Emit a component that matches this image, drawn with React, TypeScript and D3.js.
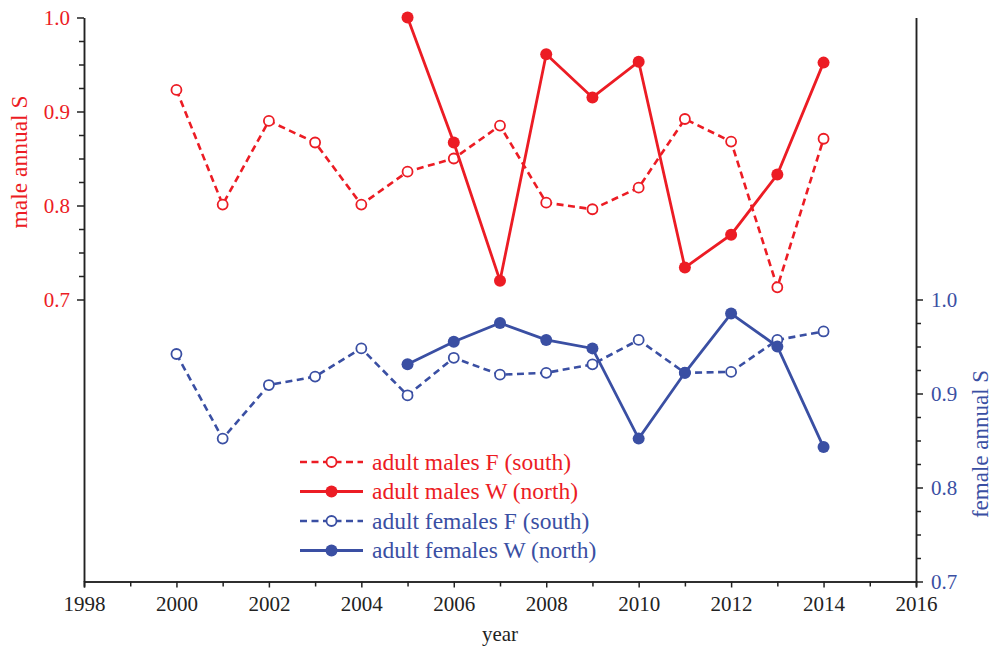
import * as d3 from "d3";
import React, { useEffect, useRef } from "react";

// years and survival values
const yearsAll = [2000, 2001, 2002, 2003, 2004, 2005, 2006, 2007, 2008, 2009, 2010, 2011, 2012, 2013, 2014];
const yearsNorth = [2005, 2006, 2007, 2008, 2009, 2010, 2011, 2012, 2013, 2014];

const malesSouth = [0.923, 0.801, 0.890, 0.867, 0.801, 0.836, 0.850, 0.885, 0.803, 0.796, 0.819, 0.892, 0.868, 0.713, 0.871];
const malesNorth = [1.0, 0.867, 0.720, 0.961, 0.915, 0.953, 0.734, 0.769, 0.833, 0.952];
const femalesSouth = [0.942, 0.852, 0.909, 0.918, 0.948, 0.898, 0.938, 0.920, 0.922, 0.931, 0.957, 0.922, 0.923, 0.957, 0.966];
const femalesNorth = [0.931, 0.955, 0.975, 0.957, 0.948, 0.852, 0.922, 0.985, 0.950, 0.843];

const xMajor = [1998, 2000, 2002, 2004, 2006, 2008, 2010, 2012, 2014, 2016];
const yMajorLeft = [0.7, 0.8, 0.9, 1.0];
const yMajorRight = [0.7, 0.8, 0.9, 1.0];

const RED = "#ec1c24";
const BLUE = "#3a4fa3";
const FONT = "Liberation Serif, DejaVu Serif, serif";

export default function App() {
  const ref = useRef<SVGSVGElement>(null);

  useEffect(() => {
    const svg = d3.select(ref.current);
    svg.selectAll("*").remove();

    const left = 84, right = 916, top = 17.5, bottom = 581.5;

    const x = d3.scaleLinear().domain([1998, 2016]).range([left, right]);
    const yL = d3.scaleLinear().domain([0.4, 1.0]).range([bottom, top]);
    const yR = d3.scaleLinear().domain([0.7, 1.3]).range([bottom, top]);

    // minor ticks: odd years and every 0.025
    const xMinor = d3.range(1999, 2016, 2);
    const yMinor = d3.range(0, 12).map((i) => 0.7 + i * 0.025).filter((v, i) => i % 4 !== 0 && v < 1.0);

    const styleAxis = (g) => {
      g.attr("font-family", FONT).attr("font-size", 21);
      g.selectAll(".domain").attr("stroke", "#222").attr("stroke-width", 1.5);
      g.selectAll(".tick line").attr("stroke", "#222").attr("stroke-width", 1.5);
    };

    // bottom axis
    svg.append("g")
      .attr("transform", `translate(0,${bottom})`)
      .call(d3.axisBottom(x).tickValues(xMinor).tickSize(5).tickFormat(() => ""))
      .call(styleAxis);
    svg.append("g")
      .attr("transform", `translate(0,${bottom})`)
      .call(d3.axisBottom(x).tickValues(xMajor).tickSize(6).tickPadding(9).tickFormat(d3.format("d")))
      .call(styleAxis)
      .call((g) => g.selectAll("text").attr("fill", "#222"));

    // left axis (male)
    svg.append("g")
      .attr("transform", `translate(${left},0)`)
      .call(d3.axisLeft(yL).tickValues(yMinor).tickSize(5).tickFormat(() => "").tickSizeOuter(0))
      .call(styleAxis);
    svg.append("g")
      .attr("transform", `translate(${left},0)`)
      .call(d3.axisLeft(yL).tickValues(yMajorLeft).tickSize(7).tickPadding(7).tickFormat(d3.format(".1f")).tickSizeOuter(0))
      .call(styleAxis)
      .call((g) => g.selectAll("text").attr("fill", RED));

    // right axis (female)
    svg.append("g")
      .attr("transform", `translate(${right},0)`)
      .call(d3.axisRight(yR).tickValues(yMinor).tickSize(5).tickFormat(() => "").tickSizeOuter(0))
      .call(styleAxis);
    svg.append("g")
      .attr("transform", `translate(${right},0)`)
      .call(d3.axisRight(yR).tickValues(yMajorRight).tickSize(7).tickPadding(8).tickFormat(d3.format(".1f")).tickSizeOuter(0))
      .call(styleAxis)
      .call((g) => g.selectAll("text").attr("fill", BLUE));

    // axis titles
    const title = (sel, size) => sel.attr("font-family", FONT).attr("font-size", size).attr("text-anchor", "middle");
    svg.append("text")
      .attr("transform", `translate(27,162) rotate(-90)`)
      .attr("fill", RED)
      .call(title, 23.5)
      .text("male annual S");
    svg.append("text")
      .attr("transform", `translate(988,444) rotate(-90)`)
      .attr("fill", BLUE)
      .call(title, 23)
      .text("female annual S");
    svg.append("text")
      .attr("x", 500).attr("y", 641)
      .attr("fill", "#222")
      .call(title, 21)
      .text("year");

    const series = [
      { label: "adult males F (south)", years: yearsAll, values: malesSouth, y: yL, color: RED, dashed: true },
      { label: "adult males W (north)", years: yearsNorth, values: malesNorth, y: yL, color: RED, dashed: false },
      { label: "adult females F (south)", years: yearsAll, values: femalesSouth, y: yR, color: BLUE, dashed: true },
      { label: "adult females W (north)", years: yearsNorth, values: femalesNorth, y: yR, color: BLUE, dashed: false },
    ];

    series.forEach((s) => {
      const pts = s.years.map((yr, i) => [x(yr), s.y(s.values[i])]);
      svg.append("path")
        .attr("d", d3.line()(pts))
        .attr("fill", "none")
        .attr("stroke", s.color)
        .attr("stroke-width", s.dashed ? 2.6 : 2.8)
        .attr("stroke-dasharray", s.dashed ? "7,4.5" : null);
      svg.append("g")
        .selectAll("circle")
        .data(pts)
        .join("circle")
        .attr("cx", (d) => d[0])
        .attr("cy", (d) => d[1])
        .attr("r", s.dashed ? 5 : 6)
        .attr("fill", s.dashed ? "white" : s.color)
        .attr("stroke", s.color)
        .attr("stroke-width", s.dashed ? 1.8 : 0);
    });

    // legend
    const lg = svg.append("g");
    series.forEach((s, i) => {
      const ly = 462 + i * 29.5;
      lg.append("line")
        .attr("x1", 300).attr("x2", 363).attr("y1", ly).attr("y2", ly)
        .attr("stroke", s.color)
        .attr("stroke-width", s.dashed ? 2.6 : 2.8)
        .attr("stroke-dasharray", s.dashed ? "7,4.5" : null);
      lg.append("circle")
        .attr("cx", 331.5).attr("cy", ly)
        .attr("r", s.dashed ? 5 : 6)
        .attr("fill", s.dashed ? "white" : s.color)
        .attr("stroke", s.color)
        .attr("stroke-width", s.dashed ? 1.8 : 0);
      lg.append("text")
        .attr("x", 372).attr("y", ly + 7.5)
        .attr("fill", s.color)
        .attr("font-family", FONT).attr("font-size", 23.5)
        .text(s.label);
    });
  }, []);

  return (
    <svg
      ref={ref}
      width={994}
      height={650}
      style={{ position: "absolute", left: 0, top: 0, background: "white" }}
    ></svg>
  );
}
